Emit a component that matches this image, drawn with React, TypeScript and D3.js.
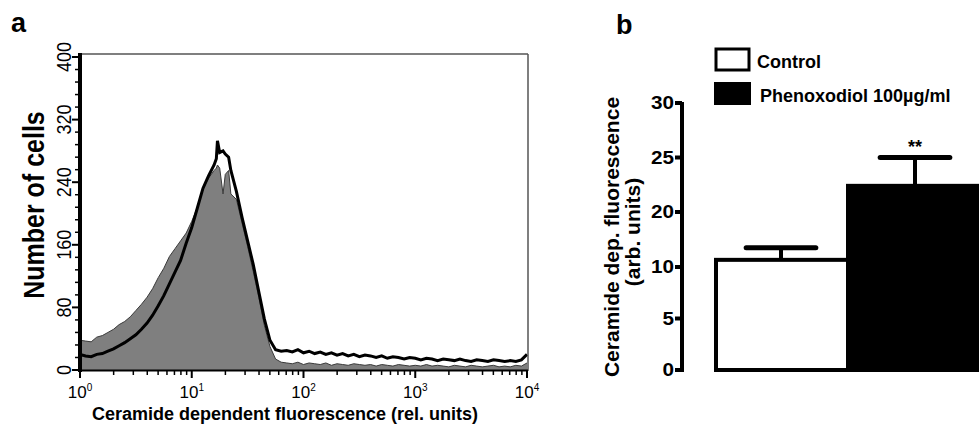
import React from "react";
import * as d3 from "d3";

// ---------- Panel a: flow cytometry histograms ----------
const logChannelsPeak = [
  0, 0.05, 0.1, 0.15, 0.2, 0.25, 0.3, 0.35, 0.4, 0.45,
  0.5, 0.55, 0.6, 0.65, 0.7, 0.75, 0.8, 0.85, 0.9, 0.95,
  1.0, 1.05, 1.1, 1.15, 1.2, 1.22, 1.23, 1.25, 1.28, 1.3,
  1.33, 1.35, 1.4, 1.45, 1.5, 1.55, 1.6, 1.65, 1.7, 1.75, 1.8,
];
const logChannelsTail = [
  1.85, 1.9, 1.95, 2.0, 2.05, 2.1, 2.15, 2.2, 2.25, 2.3,
  2.35, 2.4, 2.45, 2.5, 2.55, 2.6, 2.65, 2.7, 2.75, 2.8,
  2.85, 2.9, 2.95, 3.0, 3.05, 3.1, 3.15, 3.2, 3.25, 3.3,
  3.35, 3.4, 3.45, 3.5, 3.55, 3.6, 3.65, 3.7, 3.75, 3.8,
  3.85, 3.9, 3.95, 4.0,
];
const controlCounts = [
  38, 37, 36, 42, 44, 48, 52, 58, 62, 68,
  76, 84, 93, 104, 118, 130, 145, 155, 165, 175,
  190, 208, 232, 245, 255, 258, 262, 258, 225, 250,
  255, 225, 218, 188, 158, 126, 93, 57, 30, 14, 10,
  9, 8, 10, 7, 9, 8, 7, 9, 6, 8,
  7, 6, 8, 7, 6, 7, 5, 7, 6, 5,
  7, 6, 5, 6, 5, 7, 5, 6, 5, 4,
  6, 5, 4, 6, 5, 4, 5, 6, 4, 5,
  4, 6, 5, 9,
];
const phenoxodiolCounts = [
  20, 18, 17, 20, 21, 24, 27, 31, 35, 40,
  45, 52, 60, 70, 82, 95, 110, 125, 140, 162,
  182, 207, 232, 248, 262, 270, 293, 278, 280, 276,
  272, 255, 228, 195, 165, 135, 100, 65, 38, 26, 24,
  25, 23, 26, 22, 24, 21, 23, 20, 22, 19,
  21, 18, 20, 17, 19, 18, 16, 18, 15, 17,
  16, 14, 16, 15, 13, 15, 14, 12, 14, 13,
  12, 14, 12, 11, 13, 12, 11, 13, 12, 11,
  12, 11, 13, 20,
];
const phenoxodiolFirstChannel = 208;
const histYTicks = [0, 80, 160, 240, 320, 400];
const histXDecades = [0, 1, 2, 3, 4];

// ---------- Panel b: bar chart ----------
const barCategories = ["Control", "Phenoxodiol 100µg/ml"];
const barMeans = [11.3, 22.4];
const barUpper = [13.5, 25.0];
const barColors = ["#ffffff", "#000000"];
const barTicks = [0, 5, 10, 20, 25, 30];
const significance = ["", "**"];

const FONT = "'Liberation Sans', Arial, Helvetica, sans-serif";

export default function App() {
  const logs = [...logChannelsPeak, ...logChannelsTail];
  const x = d3.scaleLog().domain([1, 1e4]).range([80, 527]);
  const y = d3.scaleLinear().domain([0, 400]).range([370, 57]);
  const plotTop = 54;

  const ctrl = logs.map((l, i) => [Math.pow(10, l), controlCounts[i]] as [number, number]);
  const phx = [
    [1, 0],
    [1, phenoxodiolFirstChannel],
    ...logs.map((l, i) => [Math.pow(10, l), phenoxodiolCounts[i]] as [number, number]),
  ] as [number, number][];

  const area = d3
    .area<[number, number]>()
    .x((d) => x(d[0]))
    .y0(y(0))
    .y1((d) => y(d[1]));
  const line = d3
    .line<[number, number]>()
    .x((d) => x(d[0]))
    .y((d) => y(d[1]));

  const minorY = d3.range(0, 401, 16).filter((v) => v % 80 !== 0);
  const minorX: number[] = [];
  for (let d = 0; d < 4; d++) for (let k = 2; k <= 9; k++) minorX.push(k * Math.pow(10, d));

  // panel b scales
  const yb = d3.scaleLinear().domain([0, 10, 20, 30]).range([370, 267, 212, 103]);
  const xb = d3.scaleBand().domain(barCategories).range([714, 982]).padding(0);
  const bw = xb.bandwidth();

  return (
    <svg
      width={979}
      height={427}
      style={{ position: "absolute", left: 0, top: 0, background: "#fff" }}
      fontFamily={FONT}
    >
      <rect x={0} y={0} width={979} height={427} fill="#fff" />
      {/* ---------------- Panel a ---------------- */}
      <text x={11} y={32} fontSize={27} fontWeight="bold">a</text>

      <path d={area(ctrl) || ""} fill="#7f7f7f" stroke="none" />
      <path d={line(ctrl) || ""} fill="none" stroke="#3a3a3a" strokeWidth={1} />
      <path d={line(phx) || ""} fill="none" stroke="#000" strokeWidth={3} strokeLinejoin="miter" />

      {/* frame */}
      <line x1={80} x2={528} y1={plotTop} y2={plotTop} stroke="#555" strokeWidth={1.5} />
      <line x1={528} x2={528} y1={plotTop} y2={371} stroke="#555" strokeWidth={1.5} />
      <line x1={80} x2={528} y1={370.5} y2={370.5} stroke="#000" strokeWidth={2} />
      <line x1={80} x2={80} y1={plotTop - 1} y2={372} stroke="#000" strokeWidth={4} />

      {/* y ticks */}
      {histYTicks.map((t) => (
        <line key={"ym" + t} x1={72} x2={80} y1={y(t)} y2={y(t)} stroke="#000" strokeWidth={2} />
      ))}
      {minorY.map((t) => (
        <line key={"yn" + t} x1={75} x2={80} y1={y(t)} y2={y(t)} stroke="#000" strokeWidth={1.5} />
      ))}
      {histYTicks.map((t) => (
        <text
          key={"yl" + t}
          transform={`translate(71,${y(t)}) rotate(-90) scale(1,1.1)`}
          textAnchor="middle"
          fontSize={18}
        >
          {t}
        </text>
      ))}
      <text
        transform={`translate(44,205) rotate(-90) scale(1,1.15)`}
        textAnchor="middle"
        fontSize={25}
        fontWeight="bold"
      >
        Number of cells
      </text>

      {/* x ticks */}
      {histXDecades.map((d) => (
        <line key={"xm" + d} x1={x(Math.pow(10, d))} x2={x(Math.pow(10, d))} y1={370} y2={378} stroke="#000" strokeWidth={2} />
      ))}
      {minorX.map((v) => (
        <line key={"xn" + v} x1={x(v)} x2={x(v)} y1={370} y2={375} stroke="#000" strokeWidth={1.5} />
      ))}
      {histXDecades.map((d) => (
        <text key={"xl" + d} x={x(Math.pow(10, d))} y={398} textAnchor="middle" fontSize={17}>
          10<tspan dy={-7} fontSize={10}>{d}</tspan>
        </text>
      ))}
      <text x={285} y={420} textAnchor="middle" fontSize={18} fontWeight="bold">
        Ceramide dependent fluorescence (rel. units)
      </text>

      {/* ---------------- Panel b ---------------- */}
      <text x={616} y={34} fontSize={27} fontWeight="bold">b</text>

      {/* legend */}
      <rect x={716} y={49} width={33} height={21} fill="#fff" stroke="#000" strokeWidth={3} />
      <text x={757} y={68} fontSize={18} fontWeight="bold">{barCategories[0]}</text>
      <rect x={714} y={82} width={37} height={23} fill="#000" />
      <text x={760} y={102} fontSize={18} fontWeight="bold">{barCategories[1]}</text>

      {/* bars */}
      {barCategories.map((c, i) => (
        <rect
          key={"bar" + c}
          x={(xb(c) as number) + (i === 0 ? 2 : 0)}
          y={yb(barMeans[i])}
          width={bw - (i === 0 ? 2 : 0)}
          height={yb(0) - yb(barMeans[i])}
          fill={barColors[i]}
          stroke="#000"
          strokeWidth={4}
        />
      ))}
      {barCategories.map((c, i) => {
        const cx = (xb(c) as number) + bw / 2;
        return (
          <g key={"err" + c}>
            <line x1={cx} x2={cx} y1={yb(barMeans[i])} y2={yb(barUpper[i])} stroke="#000" strokeWidth={4} />
            <line
              x1={cx - bw * 0.26}
              x2={cx + bw * 0.26}
              y1={yb(barUpper[i])}
              y2={yb(barUpper[i])}
              stroke="#000"
              strokeWidth={5}
              strokeLinecap="round"
            />
            {significance[i] && (
              <text x={cx} y={yb(barUpper[i]) - 5} textAnchor="middle" fontSize={18} fontWeight="bold">
                {significance[i]}
              </text>
            )}
          </g>
        );
      })}

      {/* axis */}
      <line x1={682} x2={682} y1={yb(30) - 1} y2={yb(0) + 2} stroke="#000" strokeWidth={4} />
      {barTicks.map((t) => (
        <g key={"bt" + t}>
          <line x1={675} x2={682} y1={yb(t)} y2={yb(t)} stroke="#000" strokeWidth={4} />
          <text
            transform={`translate(674,${yb(t)}) scale(1.15,1)`}
            dy="0.36em"
            textAnchor="end"
            fontSize={18}
            fontWeight="bold"
          >
            {t}
          </text>
        </g>
      ))}
      <text
        transform={`translate(619,237) rotate(-90)`}
        textAnchor="middle"
        fontSize={21}
        fontWeight="bold"
      >
        Ceramide dep. fluorescence
      </text>
      <text
        transform={`translate(640,232) rotate(-90)`}
        textAnchor="middle"
        fontSize={21}
        fontWeight="bold"
      >
        (arb. units)
      </text>
    </svg>
  );
}
